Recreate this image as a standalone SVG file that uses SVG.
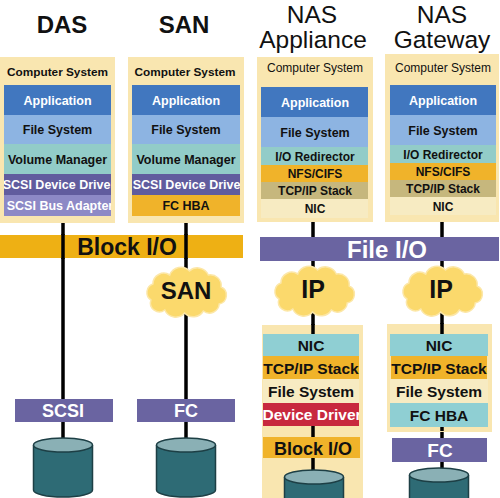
<svg xmlns="http://www.w3.org/2000/svg" width="500" height="498" viewBox="0 0 500 498">
<style>
text{font-family:"Liberation Sans",Arial,sans-serif;text-anchor:middle}
.title{font-size:24px;font-weight:bold;fill:#111}
.ntitle{font-size:24.5px;fill:#111}
.cs{font-size:11.8px;font-weight:bold;fill:#111}
.csn{font-size:12px;fill:#111}
.lb{font-size:12.5px;font-weight:bold;fill:#111}
.lw{font-size:12.5px;font-weight:bold;fill:#fff}
.ls{font-size:12px;font-weight:bold;fill:#111}
.bb{font-size:15.5px;font-weight:bold;fill:#111}
.bw{font-size:15.5px;font-weight:bold;fill:#fff}
.box{fill:#F9E6B0}
.app{fill:#4177BF}
.fs{fill:#8DB4E2}
.vm{fill:#92CCC8}
.sdd{fill:#615C9E}
.sba{fill:#8D89C6}
.org{fill:#F0B32A}
.tcp{fill:#C6B77D}
.nic{fill:#F7EBC2}
.teal{fill:#8FCFD3}
.red{fill:#C8283E}
.purple{fill:#6A64A1}
.conn{stroke:#000;stroke-width:3.5;fill:none}
.cloud{fill:#FBD96C;stroke:#FCE7A8;stroke-width:1.5}
.dbody{fill:#2E6B75;stroke:#1D3F45;stroke-width:1.5}
.dtop{fill:#8AB0B5;stroke:#1D3F45;stroke-width:1.5}
</style>
<defs>
<clipPath id="cDas"><rect x="4" y="170" width="107" height="50"/></clipPath>
<clipPath id="cSan"><rect x="132" y="170" width="108" height="30"/></clipPath>
<clipPath id="cDev"><rect x="263" y="403" width="96" height="23"/></clipPath>
<path id="cloudShape" d="M 8,32 A 9,9 0 0 1 10,16 A 11,11 0 0 1 27,7 A 12,12 0 0 1 47,3 A 12,12 0 0 1 66,7 A 11,11 0 0 1 79,19 A 9,9 0 0 1 77,36 A 10,10 0 0 1 61,43 A 12,12 0 0 1 42,45 A 12,12 0 0 1 22,42 A 9,9 0 0 1 8,32 Z"/>
<g id="diskShape">
<path class="dbody" d="M -29.5,7 V 52 A 29.5,7 0 0 0 29.5,52 V 7"/>
<ellipse class="dtop" cx="0" cy="7" rx="29.5" ry="7"/>
</g>
</defs>

<rect width="500" height="498" fill="#fff"/>

<g id="titles">
<text class="title" x="62" y="33">DAS</text>
<text class="title" x="184" y="33">SAN</text>
<text class="ntitle" x="312" y="22.5">NAS</text>
<text class="ntitle" x="313" y="48">Appliance</text>
<text class="ntitle" x="442" y="22.5">NAS</text>
<text class="ntitle" x="442" y="48">Gateway</text>
</g>

<g id="connectors">
<line class="conn" x1="63" y1="222" x2="63" y2="442"/>
<line class="conn" x1="186" y1="222" x2="186" y2="442"/>
<line class="conn" x1="313" y1="221" x2="313" y2="474"/>
<line class="conn" x1="442" y1="221" x2="442" y2="472"/>
</g>

<g id="das-system">
<rect class="box" x="0" y="57" width="115" height="166"/>
<text class="cs" x="57.5" y="75.5">Computer System</text>
<rect class="app" x="4" y="85" width="107" height="30"/>
<text class="lw" x="57.5" y="104.5">Application</text>
<rect class="fs" x="4" y="115" width="107" height="29"/>
<text class="lb" x="57.5" y="134">File System</text>
<rect class="vm" x="4" y="144" width="107" height="30"/>
<text class="lb" x="57.5" y="163.5">Volume Manager</text>
<rect class="sdd" x="4" y="174" width="107" height="21"/>
<rect class="sba" x="4" y="195" width="107" height="21"/>
<g clip-path="url(#cDas)">
<text class="lw" x="59" y="189">SCSI Device Driver</text>
<text class="lw" x="60" y="210">SCSI Bus Adapter</text>
</g>
</g>

<g id="san-system">
<rect class="box" x="128" y="57" width="116" height="166"/>
<text class="cs" x="185" y="75.5">Computer System</text>
<rect class="app" x="132" y="85" width="108" height="30"/>
<text class="lw" x="186" y="104.5">Application</text>
<rect class="fs" x="132" y="115" width="108" height="29"/>
<text class="lb" x="186" y="134">File System</text>
<rect class="vm" x="132" y="144" width="108" height="30"/>
<text class="lb" x="186" y="163.5">Volume Manager</text>
<rect class="sdd" x="132" y="174" width="108" height="21"/>
<g clip-path="url(#cSan)">
<text class="lw" x="189" y="189">SCSI Device Driver</text>
</g>
<rect class="org" x="132" y="195" width="108" height="21"/>
<text class="lb" x="186" y="210">FC HBA</text>
</g>

<g id="nas-appliance-system">
<rect class="box" x="257" y="57" width="116" height="165"/>
<text class="csn" x="315" y="71.5">Computer System</text>
<rect class="app" x="261" y="87" width="107" height="30"/>
<text class="lw" x="315" y="106.5">Application</text>
<rect class="fs" x="261" y="117" width="107" height="30"/>
<text class="lb" x="315" y="136.5">File System</text>
<rect class="vm" x="261" y="147" width="107" height="18"/>
<text class="ls" x="315" y="160.5">I/O Redirector</text>
<rect class="org" x="261" y="165" width="107" height="17"/>
<text class="ls" x="315" y="178">NFS/CIFS</text>
<rect class="tcp" x="261" y="182" width="107" height="17"/>
<text class="ls" x="315" y="195">TCP/IP Stack</text>
<rect class="nic" x="261" y="199" width="107" height="19"/>
<text class="ls" x="315" y="213">NIC</text>
</g>

<g id="nas-gateway-system">
<rect class="box" x="385" y="54" width="114" height="168"/>
<text class="csn" x="443" y="71.5">Computer System</text>
<rect class="app" x="390" y="85" width="106" height="30"/>
<text class="lw" x="443" y="104.5">Application</text>
<rect class="fs" x="390" y="115" width="106" height="30"/>
<text class="lb" x="443" y="134.5">File System</text>
<rect class="vm" x="390" y="145" width="106" height="18"/>
<text class="ls" x="443" y="158.5">I/O Redirector</text>
<rect class="org" x="390" y="163" width="106" height="17"/>
<text class="ls" x="443" y="176">NFS/CIFS</text>
<rect class="tcp" x="390" y="180" width="106" height="17"/>
<text class="ls" x="443" y="193">TCP/IP Stack</text>
<rect class="nic" x="390" y="197" width="106" height="18"/>
<text class="ls" x="443" y="210.5">NIC</text>
</g>

<g id="block-io">
<rect x="0" y="235" width="243" height="23" fill="#EEB014"/>
<line class="conn" x1="63" y1="234" x2="63" y2="259"/>
<line class="conn" x1="186" y1="234" x2="186" y2="259"/>
<text x="127" y="254.5" style="font-size:23px;font-weight:bold;fill:#111">Block I/O</text>
</g>

<g id="file-io">
<rect class="purple" x="260" y="237" width="239" height="24"/>
<text x="387" y="257.5" style="font-size:24px;font-weight:bold;fill:#fff">File I/O</text>
</g>

<g id="san-cloud">
<use href="#cloudShape" class="cloud" transform="translate(143,268) scale(0.99,1)"/>
<text x="186" y="299" style="font-size:24px;font-weight:bold;fill:#111">SAN</text>
</g>

<g id="ip-cloud-appliance">
<use href="#cloudShape" class="cloud" transform="translate(271,267) scale(0.99,1)"/>
<text x="313" y="298" style="font-size:25px;font-weight:bold;fill:#111">IP</text>
</g>

<g id="ip-cloud-gateway">
<use href="#cloudShape" class="cloud" transform="translate(399,267) scale(0.99,1)"/>
<text x="441" y="298" style="font-size:25px;font-weight:bold;fill:#111">IP</text>
</g>

<g id="scsi-bus">
<rect class="purple" x="15" y="399" width="98" height="23"/>
<text x="63" y="417" style="font-size:18px;font-weight:bold;fill:#fff">SCSI</text>
</g>

<g id="fc-san">
<rect class="purple" x="137" y="399" width="98" height="23"/>
<text x="186" y="417" style="font-size:18px;font-weight:bold;fill:#fff">FC</text>
</g>

<g id="disk-das"><use href="#diskShape" transform="translate(63,438)"/></g>
<g id="disk-san"><use href="#diskShape" transform="translate(186,438)"/></g>

<g id="nas-appliance-head">
<rect class="box" x="262" y="325" width="101" height="173"/>
<line class="conn" x1="313" y1="324" x2="313" y2="474"/>
<rect class="teal" x="263" y="334" width="96" height="22"/>
<text class="bb" x="311" y="351">NIC</text>
<rect class="org" x="263" y="356" width="96" height="23"/>
<text class="bb" x="311" y="373.5">TCP/IP Stack</text>
<rect class="nic" x="263" y="379" width="96" height="24"/>
<text class="bb" x="311" y="397">File System</text>
<rect class="red" x="263" y="403" width="96" height="23"/>
<g clip-path="url(#cDev)"><text class="bw" x="312" y="420">Device Driver</text></g>
<rect class="org" x="263" y="437" width="97" height="21"/>
<text x="313" y="455" style="font-size:18px;font-weight:bold;fill:#111">Block I/O</text>
<use href="#diskShape" transform="translate(314,470)"/>
</g>

<g id="nas-gateway-head">
<rect class="box" x="387" y="324" width="105" height="108"/>
<line class="conn" x1="442" y1="323" x2="442" y2="431"/>
<rect class="teal" x="390" y="334" width="98" height="22"/>
<text class="bb" x="439" y="351">NIC</text>
<rect class="org" x="391" y="356" width="96" height="23"/>
<text class="bb" x="439" y="373.5">TCP/IP Stack</text>
<rect class="nic" x="390" y="379" width="98" height="24"/>
<text class="bb" x="439" y="397">File System</text>
<rect class="teal" x="390" y="403" width="98" height="24"/>
<text class="bb" x="439" y="420.5">FC HBA</text>
</g>

<g id="fc-gateway">
<rect class="purple" x="392" y="438" width="95" height="24"/>
<text x="440" y="457" style="font-size:19px;font-weight:bold;fill:#fff">FC</text>
</g>

<g id="disk-gateway"><use href="#diskShape" transform="translate(439,468)"/></g>
</svg>
